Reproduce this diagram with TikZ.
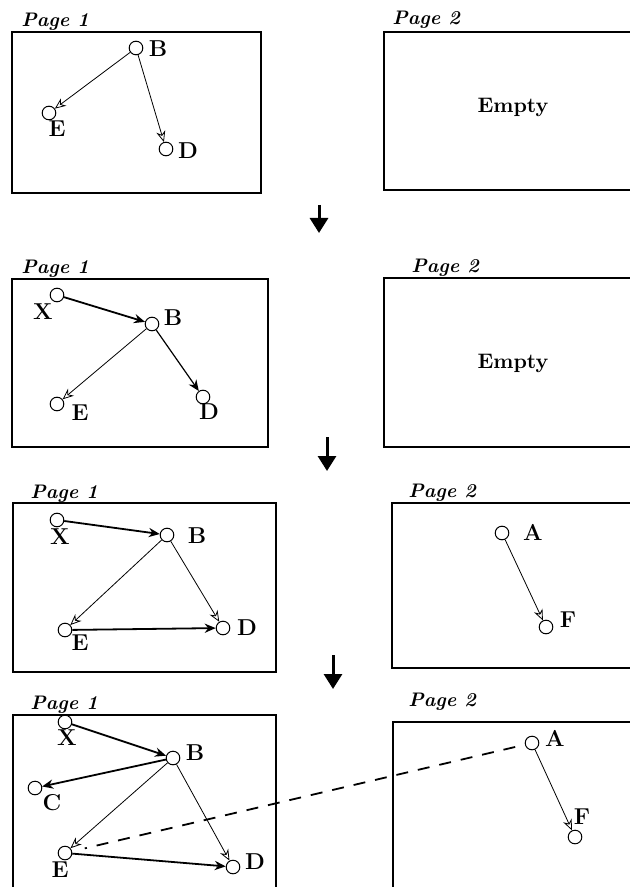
\documentclass[tikz,border=0pt]{standalone}
\usetikzlibrary{arrows.meta}
\begin{document}
\begin{tikzpicture}[x=0.5pt,y=-0.5pt]
\tikzset{
  vtx/.style={circle, draw, line width=0.5pt, minimum size=6.8pt, inner sep=0pt},
  lab/.style={font=\fontsize{11.5}{13}\selectfont\bfseries, inner sep=0pt},
  emptylab/.style={font=\fontsize{10.5}{12}\selectfont\bfseries, inner sep=0pt},
  pagelab/.style={font=\fontsize{9.8}{11}\selectfont\bfseries\itshape, anchor=base west, inner sep=0pt},
  frame/.style={line width=0.7pt},
  thinarr/.style={line width=0.4pt, -{Stealth[open, length=5.5pt, width=4.6pt]}},
  thickarr/.style={line width=0.9pt, -{Stealth[open, length=5.5pt, width=4.6pt]}},
  fillarr/.style={line width=0.9pt, -{Stealth[length=5.5pt, width=4.6pt]}},
  medarr/.style={line width=0.6pt, -{Stealth[length=5.5pt, width=4.6pt]}},
  bigarrow/.style={line width=1.5pt, -{Triangle[length=7.5pt, width=9pt]}},
  dashline/.style={line width=0.9pt, dash pattern=on 6pt off 5pt}
}
\useasboundingbox (0,0) rectangle (630,887);
\clip (0,0) rectangle (630,887);

% ---------------- Panel 1 ----------------
\draw[frame] (12,32) rectangle (261,193);
\draw[frame] (384,32) rectangle (640,190);
\node[pagelab] (p1a) at (21,27) {Page 1};
\node[pagelab] (p1b) at (392,25) {Page 2};
\node[vtx] (B1) at (136,48) {};
\node[lab] (lB1) at (158,49) {B};
\node[vtx] (E1) at (49,113) {};
\node[lab] (lE1) at (57,129) {E};
\node[vtx] (D1) at (166,149) {};
\node[lab] (lD1) at (188,151) {D};
\draw[thinarr] (B1) -- (E1);
\draw[thinarr] (B1) -- (D1);
\node[emptylab] (emp1) at (513,107) {Empty};

\coordinate (a1s) at (319,205);
\coordinate (a1e) at (319,233);
\draw[bigarrow] (a1s) -- (a1e);

% ---------------- Panel 2 ----------------
\draw[frame] (12,279) rectangle (268,447);
\draw[frame] (384,278) rectangle (640,447);
\node[pagelab] (p2a) at (21,274) {Page 1};
\node[pagelab] (p2b) at (411,273) {Page 2};
\node[vtx] (X2) at (57,295) {};
\node[lab] (lX2) at (43,312) {X};
\node[vtx] (B2) at (152,324) {};
\node[lab] (lB2) at (173,318) {B};
\node[vtx] (E2) at (57,404) {};
\node[lab] (lE2) at (80,413) {E};
\node[vtx] (D2) at (203,397) {};
\node[lab] (lD2) at (209,412) {D};
\draw[fillarr] (X2) -- (B2);
\draw[thinarr] (B2) -- (E2);
\draw[medarr] (B2) -- (D2);
\node[emptylab] (emp2) at (513,363) {Empty};

\coordinate (a2s) at (327,437);
\coordinate (a2e) at (327,471);
\draw[bigarrow] (a2s) -- (a2e);

% ---------------- Panel 3 ----------------
\draw[frame] (13,503) rectangle (276,672);
\draw[frame] (392,503) rectangle (640,668);
\node[pagelab] (p3a) at (30,498) {Page 1};
\node[pagelab] (p3b) at (408,497) {Page 2};
\node[vtx] (X3) at (57,520) {};
\node[lab] (lX3) at (60,537) {X};
\node[vtx] (B3) at (167,535) {};
\node[lab] (lB3) at (197,536) {B};
\node[vtx] (E3) at (65,630) {};
\node[lab] (lE3) at (80,643) {E};
\node[vtx] (D3) at (223,628) {};
\node[lab] (lD3) at (247,628) {D};
\node[vtx] (A3) at (502,533) {};
\node[lab] (lA3) at (533,532) {A};
\node[vtx] (F3) at (546,627) {};
\node[lab] (lF3) at (568,620) {F};
\draw[thickarr] (X3) -- (B3);
\draw[thinarr] (B3) -- (E3);
\draw[thinarr] (B3) -- (D3);
\draw[fillarr] (E3) -- (D3);
\draw[thinarr] (A3) -- (F3);

\coordinate (a3s) at (333,655);
\coordinate (a3e) at (333,689);
\draw[bigarrow] (a3s) -- (a3e);

% ---------------- Panel 4 ----------------
\draw[frame] (13,715) rectangle (276,900);
\draw[frame] (393,722) rectangle (640,900);
\node[pagelab] (p4a) at (30,709) {Page 1};
\node[pagelab] (p4b) at (408,706) {Page 2};
\node[vtx] (X4) at (65,722) {};
\node[lab] (lX4) at (67,738) {X};
\node[vtx] (B4) at (173,758) {};
\node[lab] (lB4) at (195,753) {B};
\node[vtx] (C4) at (35,788) {};
\node[lab] (lC4) at (52,803) {C};
\node[vtx] (E4) at (65,853) {};
\node[lab] (lE4) at (60,870) {E};
\node[vtx] (D4) at (233,867) {};
\node[lab] (lD4) at (255,862) {D};
\node[vtx] (A4) at (532,743) {};
\node[lab] (lA4) at (555,738) {A};
\node[vtx] (F4) at (575,837) {};
\node[lab] (lF4) at (582,817) {F};
\draw[thickarr] (X4) -- (B4);
\draw[thickarr] (B4) -- (C4);
\draw[thinarr] (B4) -- (E4);
\draw[thinarr] (B4) -- (D4);
\draw[fillarr] (E4) -- (D4);
\draw[thinarr] (A4) -- (F4);
\draw[dashline, shorten >=6.5pt, shorten <=5pt] (A4) -- (E4);
\end{tikzpicture}
\end{document}
